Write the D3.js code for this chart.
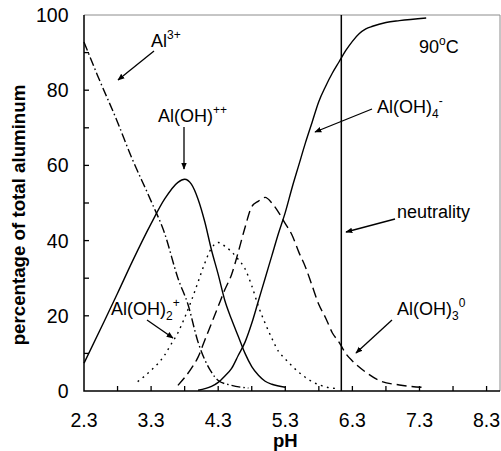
<!DOCTYPE html>
<html>
<head>
<meta charset="utf-8">
<script src="https://cdn.jsdelivr.net/npm/d3@7"></script>
<style>
    body { margin: 0; background: #fff; }
    svg text { font-family: "Liberation Sans", Arial, sans-serif; fill: #000; }
</style>
</head>
<body>
<svg id="chart" width="501" height="451"></svg>
<script>
// pH grid of each species and % of total aluminum
var al3pH = [2.3, 2.5, 2.8, 3.0, 3.3, 3.5, 3.7, 3.85, 4.0, 4.2, 4.3, 4.5, 4.75];
var al3Val = [92.8, 84, 71.5, 62.5, 50.5, 42, 30, 23, 13, 5, 2.8, 1.5, 0.8];

var aloh1pH = [2.3, 2.6, 2.8, 3.03, 3.3, 3.5, 3.7, 3.8, 3.9, 4.0, 4.1, 4.2, 4.3, 4.4, 4.5, 4.6, 4.7, 4.8, 4.9, 5.0, 5.1, 5.3];
var aloh1Val = [7.4, 18.5, 26, 34.8, 44.5, 51, 55.5, 56.3, 55, 51, 45, 37.5, 31, 24, 19, 14.5, 10, 6.5, 4.2, 2.6, 1.8, 1.0];

var aloh2pH = [3.1, 3.3, 3.5, 3.6, 3.7, 3.8, 3.9, 4.0, 4.1, 4.2, 4.3, 4.4, 4.5, 4.6, 4.7, 4.8, 4.9, 5.0, 5.1, 5.2, 5.3, 5.5, 5.7, 5.9, 6.1];
var aloh2Val = [2.5, 5.5, 9.5, 12.5, 15.5, 19.5, 24, 29, 34, 38, 39.5, 38.5, 37, 35, 32.5, 28, 22.5, 18, 14, 10.5, 8.5, 5, 2.5, 1.1, 0.6];

var aloh3pH = [3.7, 3.9, 4.0, 4.1, 4.2, 4.3, 4.4, 4.5, 4.6, 4.7, 4.8, 4.9, 5.0, 5.1, 5.2, 5.3, 5.4, 5.5, 5.6, 5.7, 5.8, 5.9, 6.0, 6.1, 6.2, 6.3, 6.5, 6.7, 7.0, 7.4];
var aloh3Val = [1.5, 6, 9, 13.5, 18, 22.5, 27, 31, 37, 43.5, 49, 50.5, 51.5, 50, 47.5, 44.5, 41.5, 37, 33, 28, 23, 19.5, 15.5, 13, 10, 8, 5, 2.8, 1.6, 0.9];

var aloh4pH = [4.0, 4.2, 4.3, 4.4, 4.5, 4.6, 4.7, 4.8, 4.9, 5.0, 5.1, 5.2, 5.3, 5.4, 5.5, 5.6, 5.7, 5.8, 5.9, 6.0, 6.1, 6.2, 6.3, 6.4, 6.5, 6.6, 6.8, 7.0, 7.4];
var aloh4Val = [0.2, 1.2, 2.3, 4, 6, 9.5, 13, 18, 24, 30, 36, 42, 47.5, 54, 60, 66, 71.5, 77, 81, 84.5, 87.5, 90.5, 93, 95, 96.3, 97, 98, 98.5, 99.2];

var neutralPH = 6.135;
var xTickLabels = [2.3, 3.3, 4.3, 5.3, 6.3, 7.3, 8.3];
var xMinorTicks = [2.8, 3.3, 3.8, 4.3, 4.8, 5.3, 5.8, 6.3, 6.8, 7.3, 7.8, 8.3];
var yTickLabels = [0, 20, 40, 60, 80, 100];
var yMinorTicks = [10, 20, 30, 40, 50, 60, 70, 80, 90];

var plotLeft = 84, plotRight = 500, plotTop = 15, plotBottom = 391;

var svg = d3.select("#chart");

var x = d3.scaleLinear().domain([2.3, 8.5]).range([plotLeft, plotRight]);
var y = d3.scaleLinear().domain([0, 100]).range([plotBottom, plotTop]);

svg.append("defs").append("marker")
    .attr("id", "arrow")
    .attr("viewBox", "0 0 10 10")
    .attr("refX", 9)
    .attr("refY", 5)
    .attr("markerWidth", 7)
    .attr("markerHeight", 7)
    .attr("markerUnits", "userSpaceOnUse")
    .attr("orient", "auto")
    .append("path")
    .attr("d", "M0,1 L10,5 L0,9 Z")
    .attr("fill", "#000");

// frame: gray top and right
svg.append("path")
    .attr("d", "M" + plotLeft + "," + plotTop + "H" + plotRight + "V" + plotBottom)
    .attr("fill", "none")
    .attr("stroke", "#8c8c8c")
    .attr("stroke-width", 1);

// ticks point into the plot
svg.selectAll("line.xtick")
    .data(xMinorTicks)
    .enter().append("line")
    .attr("class", "xtick")
    .attr("x1", function (d) { return x(d); })
    .attr("x2", function (d) { return x(d); })
    .attr("y1", plotBottom)
    .attr("y2", plotBottom - 5)
    .attr("stroke", "#000")
    .attr("stroke-width", 1.3);

svg.selectAll("line.ytick")
    .data(yMinorTicks)
    .enter().append("line")
    .attr("class", "ytick")
    .attr("x1", plotLeft)
    .attr("x2", plotLeft + 5)
    .attr("y1", function (d) { return y(d); })
    .attr("y2", function (d) { return y(d); })
    .attr("stroke", "#000")
    .attr("stroke-width", 1.3);

svg.append("path")
    .attr("d", "M" + plotLeft + "," + plotTop + "V" + plotBottom + "H" + plotRight)
    .attr("fill", "none")
    .attr("stroke", "#000")
    .attr("stroke-width", 1.5);

svg.selectAll("text.xlab")
    .data(xTickLabels)
    .enter().append("text")
    .attr("class", "xlab")
    .attr("x", function (d) { return x(d); })
    .attr("y", 426.5)
    .attr("text-anchor", "middle")
    .attr("font-size", 19.5)
    .text(function (d) { return d.toFixed(1); });

svg.selectAll("text.ylab")
    .data(yTickLabels)
    .enter().append("text")
    .attr("class", "ylab")
    .attr("x", 68.5)
    .attr("y", function (d) { return y(d) + 7; })
    .attr("text-anchor", "end")
    .attr("font-size", 19.5)
    .text(function (d) { return d; });

svg.append("text")
    .attr("x", x(5.3))
    .attr("y", 446.5)
    .attr("text-anchor", "middle")
    .attr("font-size", 18.5)
    .attr("font-weight", "bold")
    .text("pH");

svg.append("text")
    .attr("transform", "translate(25,215) rotate(-90)")
    .attr("text-anchor", "middle")
    .attr("font-size", 18.7)
    .attr("font-weight", "bold")
    .text("percentage of total aluminum");

// neutrality line
svg.append("line")
    .attr("x1", x(neutralPH))
    .attr("x2", x(neutralPH))
    .attr("y1", y(100))
    .attr("y2", y(0))
    .attr("stroke", "#000")
    .attr("stroke-width", 1.5);

var line = d3.line()
    .x(function (d) { return x(d[0]); })
    .y(function (d) { return y(d[1]); })
    .curve(d3.curveMonotoneX);

var series = [
    { ph: al3pH, val: al3Val, dash: "9,3,1.5,3" },
    { ph: aloh1pH, val: aloh1Val, dash: null },
    { ph: aloh2pH, val: aloh2Val, dash: "1.8,4.5" },
    { ph: aloh3pH, val: aloh3Val, dash: "10,5" },
    { ph: aloh4pH, val: aloh4Val, dash: null }
];

series.forEach(function (s) {
    svg.append("path")
        .datum(d3.zip(s.ph, s.val))
        .attr("d", line)
        .attr("fill", "none")
        .attr("stroke", "#000")
        .attr("stroke-width", 1.4)
        .attr("stroke-dasharray", s.dash);
});

// labels with arrows
function label(px, py, parts) {
    var t = svg.append("text")
        .attr("x", px)
        .attr("y", py)
        .attr("font-size", 18);
    parts.forEach(function (p) {
        var ts = t.append("tspan").text(p[0]);
        if (p[1] === "sup") {
            ts.attr("font-size", 12).attr("dy", -8);
        } else if (p[1] === "sub") {
            ts.attr("font-size", 12).attr("dy", 5);
        } else if (p[1] === "subsup") {
            ts.attr("font-size", 12).attr("dy", -13);
        } else if (p[1] === "back") {
            ts.attr("dy", 8);
        }
    });
}

function arrow(x1, y1, x2, y2) {
    svg.append("line")
        .attr("x1", x1).attr("y1", y1)
        .attr("x2", x2).attr("y2", y2)
        .attr("stroke", "#000")
        .attr("stroke-width", 1.3)
        .attr("marker-end", "url(#arrow)");
}

label(151, 47, [["Al"], ["3+", "sup"]]);
arrow(154, 51, 118, 80);

label(158, 122, [["Al(OH)"], ["++", "sup"]]);
arrow(184, 127, 184, 169);

label(377, 113, [["Al(OH)"], ["4", "sub"], ["-", "subsup"]]);
arrow(372, 109, 315, 132);

label(419, 53, [["90"], ["o", "sup"], ["C", "back"]]);

label(397, 218, [["neutrality"]]);
arrow(395, 219, 346, 232);

label(397, 315, [["Al(OH)"], ["3", "sub"], ["0", "subsup"]]);
arrow(392, 320, 356, 353);

label(111, 315, [["Al(OH)"], ["2", "sub"], ["+", "subsup"]]);
arrow(147, 320, 173, 338);
</script>
</body>
</html>
